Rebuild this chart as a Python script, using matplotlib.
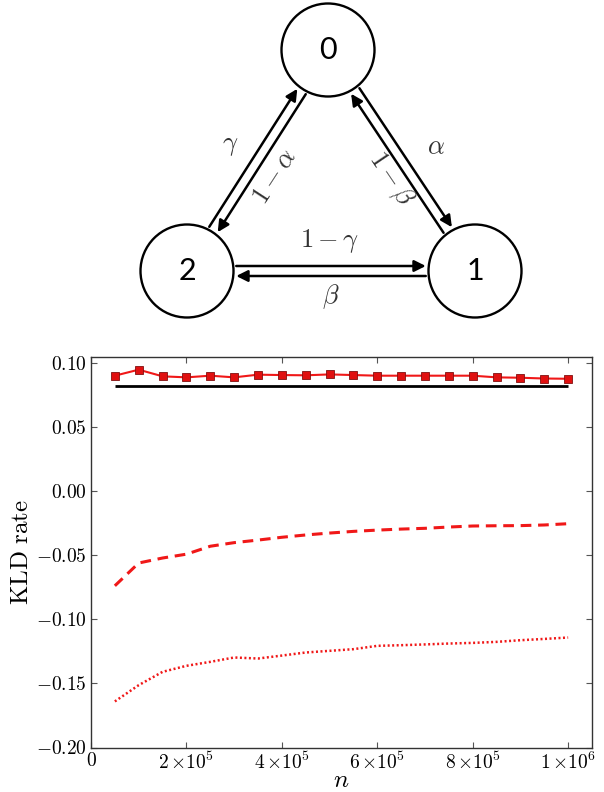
import numpy as np
import matplotlib
matplotlib.use("Agg")
import matplotlib.pyplot as plt
from matplotlib.patches import Circle, FancyArrowPatch
from matplotlib.ticker import FixedLocator, FuncFormatter

plt.rcParams['mathtext.fontset'] = 'cm'
plt.rcParams['font.family'] = ['DejaVu Serif']

# ---------------- data ----------------
n_values = [5e4, 1e5, 1.5e5, 2e5, 2.5e5, 3e5, 3.5e5, 4e5, 4.5e5, 5e5,
            5.5e5, 6e5, 6.5e5, 7e5, 7.5e5, 8e5, 8.5e5, 9e5, 9.5e5, 1e6]
kld_estimate = [0.0904, 0.0951, 0.0899, 0.0891, 0.0904, 0.0891, 0.0912, 0.0909,
                0.0907, 0.0914, 0.0909, 0.0904, 0.0904, 0.0904, 0.0904, 0.0904,
                0.0891, 0.0888, 0.0882, 0.0880]
kld_true = 0.0820
kld_dashed = [-0.0737, -0.0559, -0.0520, -0.0490, -0.0428, -0.0400, -0.0380, -0.0358,
              -0.0340, -0.0325, -0.0312, -0.0302, -0.0294, -0.0288, -0.0278, -0.0270,
              -0.0268, -0.0267, -0.0262, -0.0252]
kld_dotted = [-0.1640, -0.1513, -0.1409, -0.1362, -0.1331, -0.1297, -0.1305, -0.1282,
              -0.1258, -0.1245, -0.1232, -0.1206, -0.1201, -0.1195, -0.1188, -0.1183,
              -0.1175, -0.1162, -0.1152, -0.1141]
y_ticks = [-0.20, -0.15, -0.10, -0.05, 0.00, 0.05, 0.10]
x_ticks = [0, 2e5, 4e5, 6e5, 8e5, 1e6]
x_tick_labels = [r'$0$', r'$2\,{\times}10^5$', r'$4\,{\times}10^5$', r'$6\,{\times}10^5$',
                 r'$8\,{\times}10^5$', r'$1\,{\times}10^6$']

# diagram: nodes and transitions
node_labels = ['0', '1', '2']
edges = [(0, 1, r'$\alpha$'), (1, 0, r'$1-\beta$'),
         (2, 1, r'$1-\gamma$'), (1, 2, r'$\beta$'),
         (2, 0, r'$\gamma$'), (0, 2, r'$1-\alpha$')]

# ---------------- layout ----------------
W, H = 604, 792
fig = plt.figure(figsize=(W / 100, H / 100), dpi=100)

# diagram axes in pixel units
dh = 320
dax = fig.add_axes([0, 1 - dh / H, 1, dh / H])
dax.set_xlim(0, W)
dax.set_ylim(dh, 0)
dax.axis('off')

node_pos = {0: (328, 50), 1: (475, 271), 2: (187, 271)}
r = 46.5
label_pos = {(0, 1): (436, 147, 0), (1, 0): (391, 179, -56),
             (2, 1): (330, 241, 0), (1, 2): (331, 297, 0),
             (2, 0): (230, 145, 0), (0, 2): (275, 176, 57)}

for i, lab in enumerate(node_labels):
    cx, cy = node_pos[i]
    dax.add_patch(Circle((cx, cy), r, facecolor='white', edgecolor='black', lw=1.7, zorder=2))
    dax.text(cx, cy, lab, ha='center', va='center', fontsize=22, family='Lato',
             zorder=3)

off, gap = 5.0, 3.0
for a, b, lab in edges:
    p1 = np.array(node_pos[a], float)
    p2 = np.array(node_pos[b], float)
    u = (p2 - p1) / np.linalg.norm(p2 - p1)
    side = np.array([u[1], -u[0]])
    s = np.sqrt(r ** 2 - off ** 2) + gap
    start = p1 + off * side + s * u
    end = p2 + off * side - s * u
    dax.add_patch(FancyArrowPatch(start, end, arrowstyle='-|>', mutation_scale=17,
                                  lw=1.8, color='black', shrinkA=0, shrinkB=0, zorder=1))
    lx, ly, rot = label_pos[(a, b)]
    dax.text(lx, ly, lab, ha='center', va='center', fontsize=19, rotation=rot,
             color='#333333')

# plot axes
ax = fig.add_axes([91 / W, (H - 747.5) / H, (592 - 91) / W, (747.5 - 357) / H])
ax.plot(n_values, kld_estimate, '-s', color='#f01818', lw=1.5, ms=5.5,
        mfc='#e01010', mec='#801010', mew=0.6, zorder=3)
ax.hlines(kld_true, n_values[0], n_values[-1], color='black', lw=2.0, zorder=2)
ax.plot(n_values, kld_dashed, color='#f01818', lw=2.2, dashes=(3.5, 2.2))
ax.plot(n_values, kld_dotted, color='#f01818', lw=1.8, dashes=(0.8, 1.0))

ax.set_xlim(0, 1.05e6)
ax.set_ylim(-0.20, 0.105)
ax.xaxis.set_major_locator(FixedLocator(x_ticks))
ax.set_xticklabels(x_tick_labels)
ax.yaxis.set_major_locator(FixedLocator(y_ticks))
ax.yaxis.set_major_formatter(FuncFormatter(lambda v, p: r'$%.2f$' % v))
ax.tick_params(direction='in', length=4, width=0.8, top=True, right=True,
               labelsize=14, color='#555555', pad=3)
for sp in ax.spines.values():
    sp.set_linewidth(1.0)
    sp.set_color('#333333')

ax.set_ylabel(r'$\mathrm{KLD\ rate}$', fontsize=18, labelpad=2)
ax.set_xlabel(r'$n$', fontsize=18, labelpad=-3)

fig.savefig('out.png', dpi=100)
